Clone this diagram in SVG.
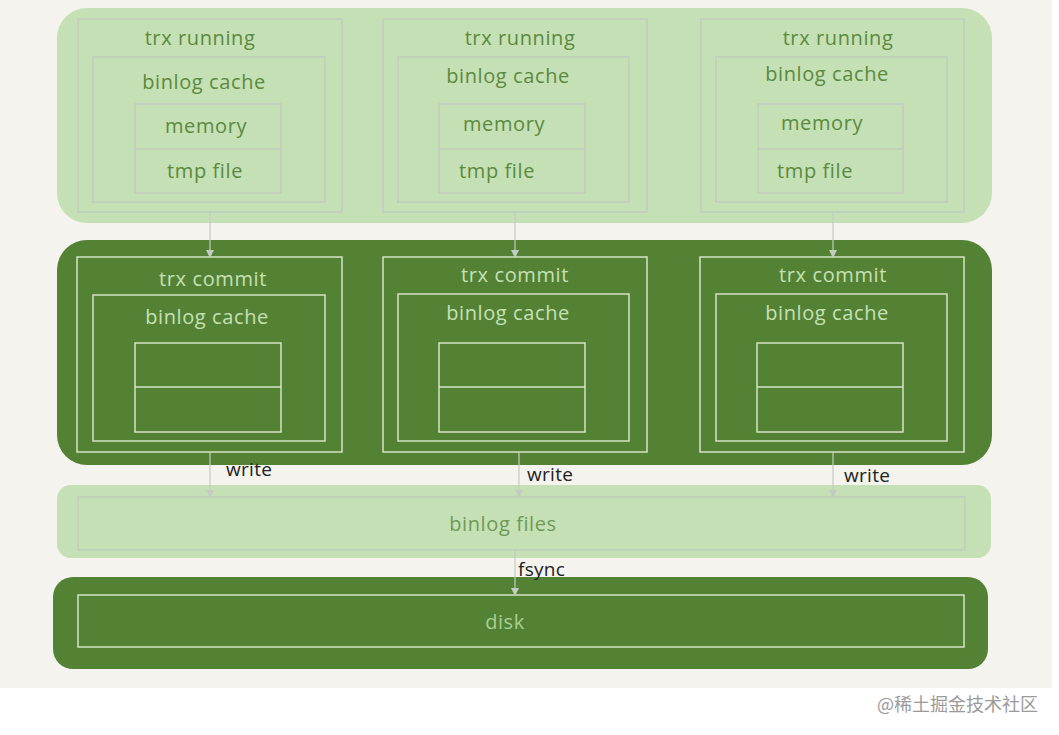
<svg xmlns="http://www.w3.org/2000/svg" width="1059" height="735" viewBox="0 0 1059 735">
<defs>
<style>
.lt{fill:#c5e0b4}
.dk{fill:#548235}
.lbox{fill:none;stroke:#c0cbbd;stroke-width:1.5}
.dbox{fill:none;stroke:#d3e3c6;stroke-width:1.5}
.t{font-family:"Open Sans","Liberation Sans",sans-serif;font-size:20px;letter-spacing:0.6px;text-anchor:middle}
.tl{fill:#5b8a3f}
.td{fill:#c5e0b4}
.tk{fill:#222;font-family:"Open Sans","Liberation Sans",sans-serif;font-size:19px;letter-spacing:0.3px}
.c{stroke:#c4ccc2;stroke-width:1.2;fill:none}
.wm{font-family:"Noto Sans CJK SC","Noto Sans",sans-serif;font-size:18px;fill:#9a9a9a}
</style>
<marker id="ah" markerWidth="8" markerHeight="8" refX="7" refY="4" orient="auto" markerUnits="userSpaceOnUse">
<path d="M0,0 L8,4 L0,8 z" fill="#c4ccc2"/>
</marker>
</defs>
<rect x="0" y="0" width="1059" height="735" fill="#ffffff"/>
<rect x="0" y="0" width="1052" height="688" fill="#f4f3ee"/>

<g id="running-panel">
<rect class="lt" x="57" y="8" width="935" height="215" rx="30"/>
</g>
<g id="commit-panel">
<rect class="dk" x="57" y="240" width="935" height="225" rx="30"/>
</g>
<g id="binlog-files">
<rect class="lt" x="57" y="485" width="934" height="73" rx="14"/>
<rect class="lbox" x="78" y="497" width="887" height="53"/>
<text class="t" x="503" y="531" fill="#6e9a56">binlog files</text>
</g>
<g id="disk">
<rect class="dk" x="53" y="577" width="935" height="92" rx="20"/>
<rect class="dbox" x="78" y="595" width="886" height="52" stroke="#b9cfa8"/>
<text class="t" x="505" y="629" fill="#a9cf92">disk</text>
</g>

<g id="running-1">
<rect class="lbox" x="78" y="19" width="264" height="193"/>
<rect class="lbox" x="93" y="57" width="232" height="145"/>
<rect class="lbox" x="135" y="104" width="146" height="89"/>
<line class="lbox" x1="135" y1="149" x2="281" y2="149"/>
<text class="t tl" x="200" y="45">trx running</text>
<text class="t tl" x="204" y="89">binlog cache</text>
<text class="t tl" x="206" y="133">memory</text>
<text class="t tl" x="205" y="178">tmp file</text>
</g>
<g id="running-2">
<rect class="lbox" x="383" y="19" width="264" height="193"/>
<rect class="lbox" x="398" y="57" width="231" height="145"/>
<rect class="lbox" x="439" y="104" width="146" height="89"/>
<line class="lbox" x1="439" y1="149" x2="585" y2="149"/>
<text class="t tl" x="520" y="45">trx running</text>
<text class="t tl" x="508" y="83">binlog cache</text>
<text class="t tl" x="504" y="131">memory</text>
<text class="t tl" x="497" y="178">tmp file</text>
</g>
<g id="running-3">
<rect class="lbox" x="701" y="19" width="263" height="193"/>
<rect class="lbox" x="716" y="57" width="231" height="145"/>
<rect class="lbox" x="758" y="104" width="145" height="89"/>
<line class="lbox" x1="758" y1="149" x2="903" y2="149"/>
<text class="t tl" x="838" y="45">trx running</text>
<text class="t tl" x="827" y="81">binlog cache</text>
<text class="t tl" x="822" y="130">memory</text>
<text class="t tl" x="815" y="178">tmp file</text>
</g>

<g id="commit-1">
<rect class="dbox" x="77" y="257" width="265" height="195"/>
<rect class="dbox" x="93" y="295" width="232" height="146"/>
<rect class="dbox" x="135" y="343" width="146" height="89"/>
<line class="dbox" x1="135" y1="387" x2="281" y2="387"/>
<text class="t td" x="213" y="286">trx commit</text>
<text class="t td" x="207" y="324">binlog cache</text>
</g>
<g id="commit-2">
<rect class="dbox" x="383" y="257" width="264" height="195"/>
<rect class="dbox" x="398" y="294" width="231" height="147"/>
<rect class="dbox" x="439" y="343" width="146" height="89"/>
<line class="dbox" x1="439" y1="387" x2="585" y2="387"/>
<text class="t td" x="515" y="282">trx commit</text>
<text class="t td" x="508" y="320">binlog cache</text>
</g>
<g id="commit-3">
<rect class="dbox" x="700" y="257" width="264" height="195"/>
<rect class="dbox" x="716" y="294" width="231" height="147"/>
<rect class="dbox" x="757" y="343" width="146" height="89"/>
<line class="dbox" x1="757" y1="387" x2="903" y2="387"/>
<text class="t td" x="833" y="282">trx commit</text>
<text class="t td" x="827" y="320">binlog cache</text>
</g>

<g id="connectors">
<line class="c" x1="210" y1="212" x2="210" y2="257" marker-end="url(#ah)"/>
<line class="c" x1="515" y1="212" x2="515" y2="257" marker-end="url(#ah)"/>
<line class="c" x1="833" y1="212" x2="833" y2="257" marker-end="url(#ah)"/>
<line class="c" x1="210" y1="452" x2="210" y2="497" marker-end="url(#ah)"/>
<line class="c" x1="519" y1="452" x2="519" y2="497" marker-end="url(#ah)"/>
<line class="c" x1="833" y1="452" x2="833" y2="497" marker-end="url(#ah)"/>
<line class="c" x1="515" y1="550" x2="515" y2="595" marker-end="url(#ah)"/>
<text class="tk" x="226" y="476">write</text>
<text class="tk" x="527" y="481">write</text>
<text class="tk" x="844" y="482">write</text>
<text class="tk" x="518" y="576">fsync</text>
</g>

<text class="wm" x="877" y="711">@稀土掘金技术社区</text>
</svg>
